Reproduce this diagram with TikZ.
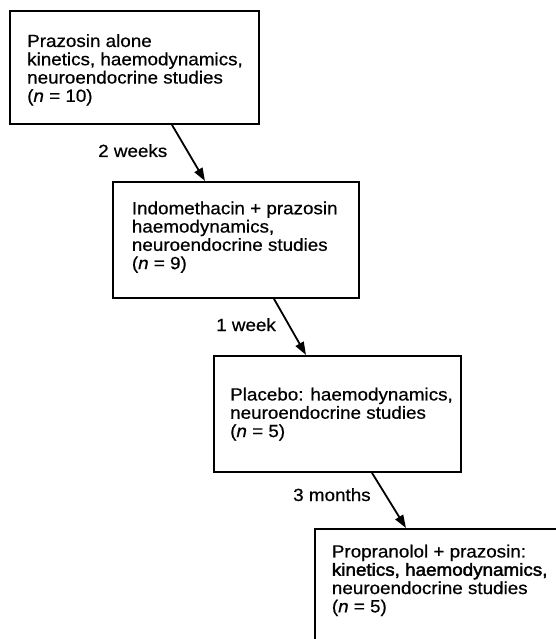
\documentclass[tikz,border=0pt]{standalone}
\usepackage{fontspec}
\setmainfont{Liberation Sans}[FakeStretch=1.07, FakeBold=0.6]
\newfontfamily\heavyfont{Liberation Sans}[FakeStretch=1.07, FakeBold=2.2]
\usetikzlibrary{arrows.meta,calc}
\tikzset{
  boxnode/.style={draw, line width=1.9pt, inner sep=0pt, anchor=north west},
  txt/.style={anchor=north west, inner sep=0pt, align=left, font=\fontsize{17.6}{18.3}\selectfont},
  lbl/.style={anchor=base west, inner sep=0pt, font=\fontsize{17.6}{18.3}\selectfont},
  arr/.style={line width=1.8pt, -{Triangle[length=13pt,width=9pt]}}
}
\begin{document}
\begin{tikzpicture}[x=1pt,y=-1pt]
\useasboundingbox (0,0) rectangle (556,639);
\clip (0,0) rectangle (556,639);
% boxes
\node[boxnode, minimum width=249pt, minimum height=113pt] (b1) at (9,10) {};
\node[boxnode, minimum width=246pt, minimum height=116pt] (b2) at (112,181) {};
\node[boxnode, minimum width=247pt, minimum height=116pt] (b3) at (213,355) {};
\node[boxnode, minimum width=300pt, minimum height=160pt] (b4) at (314,528) {};
% texts
\node[txt] (t1) at ($(b1.north west)+(18,24)$) {Prazosin alone\\kinetics, haemodynamics,\\neuroendocrine studies\\(\textit{n} = 10)};
\node[txt] (t2) at ($(b2.north west)+(19.7,20.3)$) {Indomethacin + prazosin\\haemodynamics,\\neuroendocrine studies\\(\textit{n} = 9)};
\node[txt] (t3) at ($(b3.north west)+(17,32.5)$) {Placebo: haemodynamics,\\neuroendocrine studies\\(\textit{n} = 5)};
\node[txt] (t4) at ($(b4.north west)+(17.7,16.5)$) {Propranolol + prazosin:\\{\heavyfont kinetics, haemodynamics,}\\neuroendocrine studies\\(\textit{n} = 5)};
% connectors
\draw[arr] ([xshift=163pt]b1.south west) -- ([xshift=93pt]b2.north west);
\draw[arr] ([xshift=162pt]b2.south west) -- ([xshift=93pt]b3.north west);
\draw[arr] ([xshift=159pt]b3.south west) -- ([xshift=92pt]b4.north west);
% labels
\node[lbl] (l1) at (98,157) {2 weeks};
\node[lbl] (l2) at (216,331) {1 week};
\node[lbl] (l3) at (293,501) {3 months};
\end{tikzpicture}
\end{document}
